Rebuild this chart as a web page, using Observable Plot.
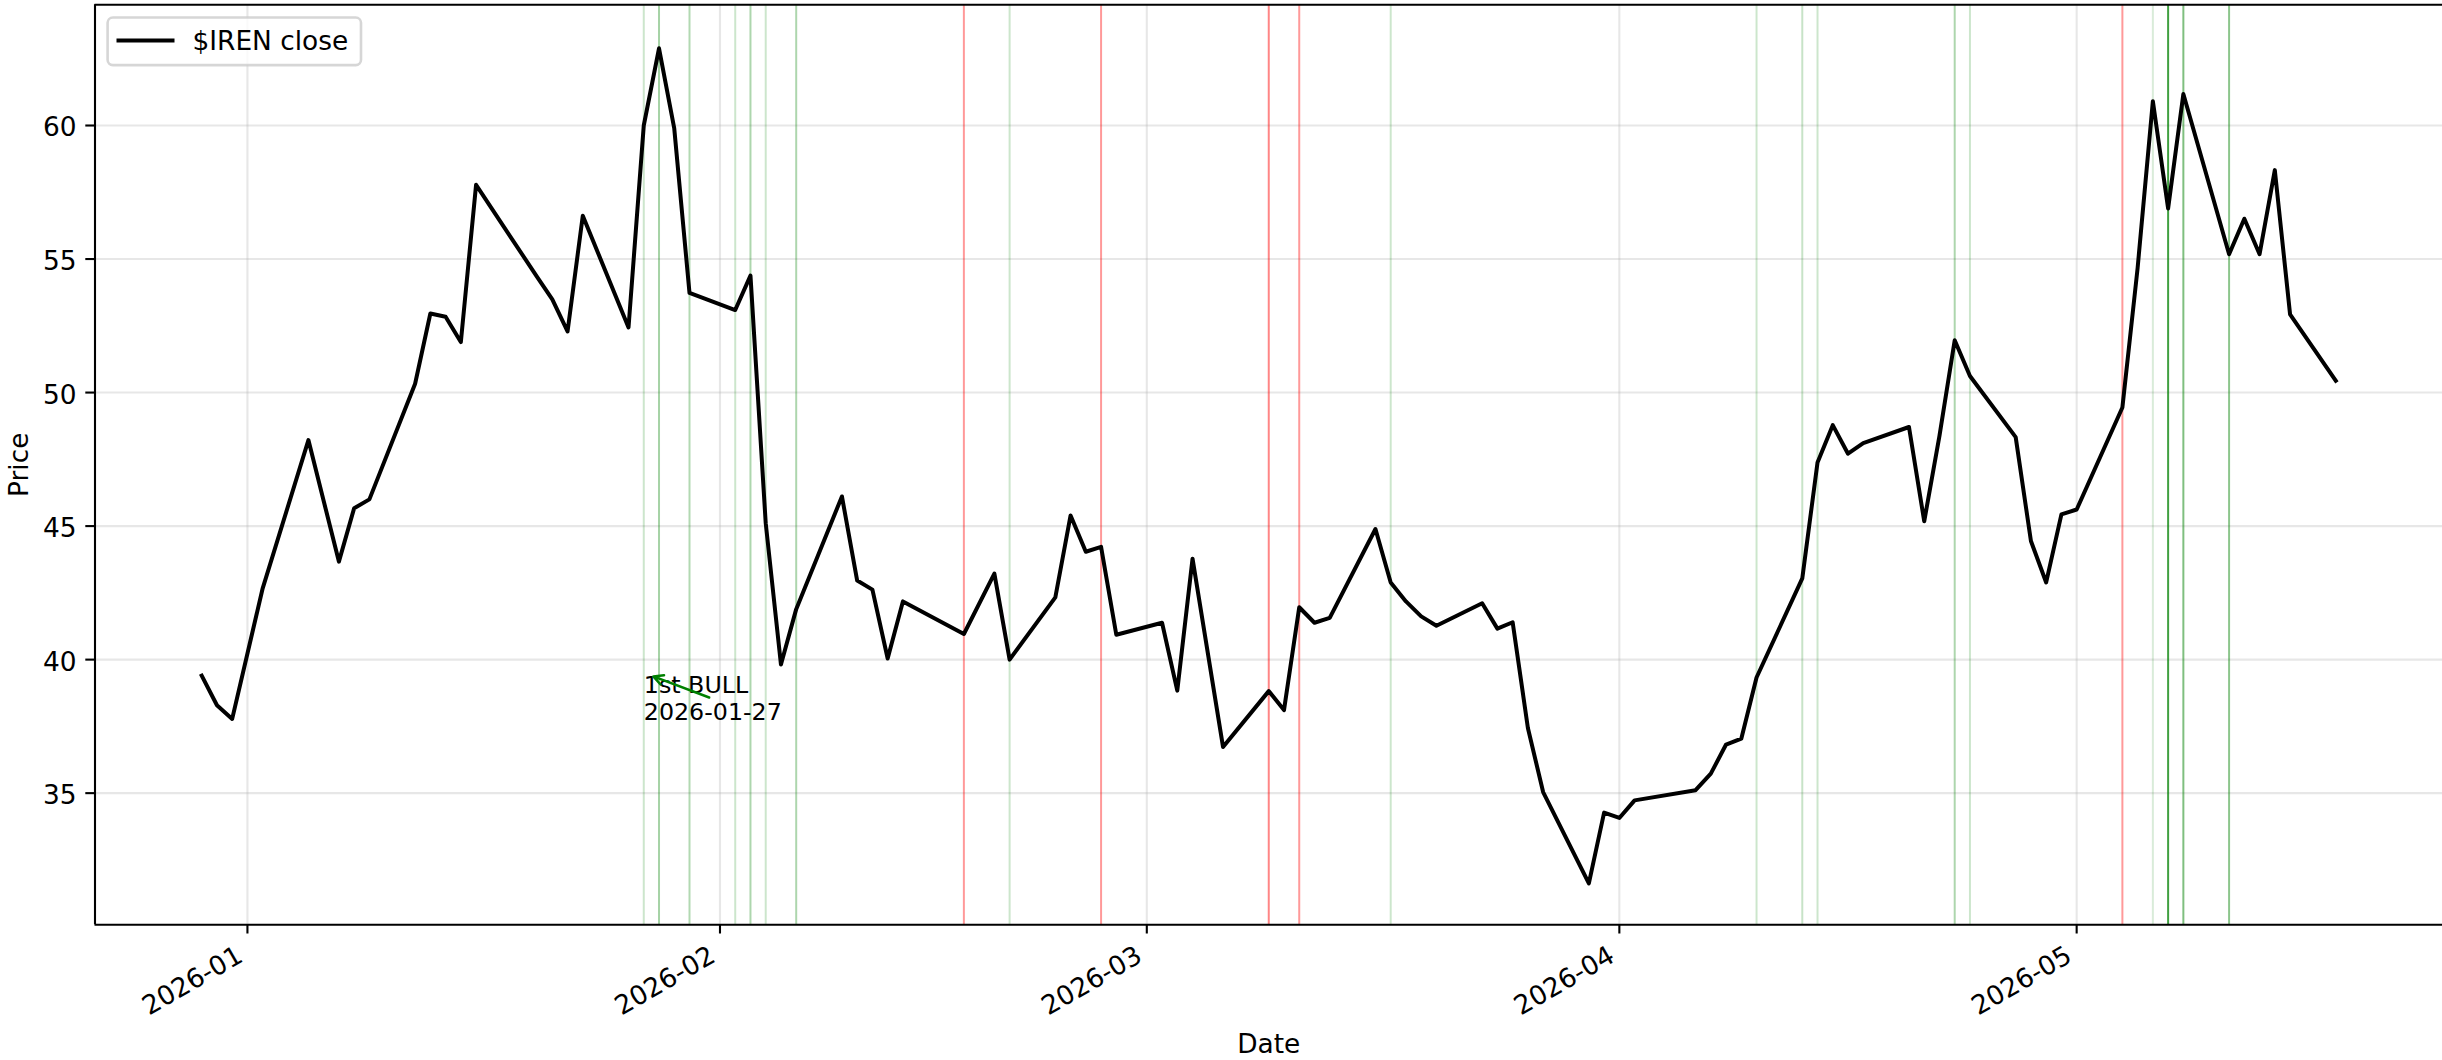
<!DOCTYPE html>
<html>
<head>
<meta charset="utf-8">
<script src="https://cdn.jsdelivr.net/npm/d3@7"></script>
<script src="https://cdn.jsdelivr.net/npm/@observablehq/plot@0.6"></script>
<style>
html,body{margin:0;padding:0;background:#fff;overflow:hidden}
#chart svg{display:block}
</style>
</head>
<body>
<div id="chart"></div>
<script>
// ---- data ----
const dates = [
"2025-12-29","2025-12-30","2025-12-31","2026-01-02","2026-01-05","2026-01-07","2026-01-08","2026-01-09",
"2026-01-12","2026-01-13","2026-01-14","2026-01-15","2026-01-16","2026-01-20","2026-01-21","2026-01-22","2026-01-23",
"2026-01-26","2026-01-27","2026-01-28","2026-01-29","2026-01-30",
"2026-02-02","2026-02-03","2026-02-04","2026-02-05","2026-02-06",
"2026-02-09","2026-02-10","2026-02-11","2026-02-12","2026-02-13",
"2026-02-17","2026-02-19","2026-02-20",
"2026-02-23","2026-02-24","2026-02-25","2026-02-26","2026-02-27",
"2026-03-02","2026-03-03","2026-03-04","2026-03-06",
"2026-03-09","2026-03-10","2026-03-11","2026-03-12","2026-03-13",
"2026-03-16","2026-03-17","2026-03-18","2026-03-19","2026-03-20",
"2026-03-23","2026-03-24","2026-03-25","2026-03-26","2026-03-27",
"2026-03-30","2026-03-31","2026-04-01","2026-04-02",
"2026-04-06","2026-04-07","2026-04-08","2026-04-09","2026-04-10",
"2026-04-13","2026-04-14","2026-04-15","2026-04-16","2026-04-17",
"2026-04-20","2026-04-21","2026-04-22","2026-04-23","2026-04-24",
"2026-04-27","2026-04-28","2026-04-29","2026-04-30","2026-05-01",
"2026-05-04","2026-05-05","2026-05-06","2026-05-07","2026-05-08",
"2026-05-11","2026-05-12","2026-05-13","2026-05-14","2026-05-15",
"2026-05-18"
];
const closes = [
39.40, 38.29, 37.78, 42.67, 48.22, 43.67, 45.67, 46.00,
50.33, 52.96, 52.84, 51.89, 57.78, 54.33, 53.49, 52.29, 56.62,
52.44, 60.00, 62.89, 59.89, 53.73,
53.09, 54.38, 45.11, 39.82, 41.89,
46.11, 42.96, 42.62, 40.04, 42.18,
40.96, 43.22, 40.00,
42.33, 45.40, 44.04, 44.22, 40.93,
41.38, 38.84, 43.78, 36.73,
38.82, 38.11, 41.96, 41.38, 41.56,
44.89, 42.89, 42.18, 41.62, 41.27,
42.11, 41.16, 41.40, 37.44, 35.04,
31.62, 34.27, 34.07, 34.73,
35.11, 35.73, 36.82, 37.04, 39.33,
43.04, 47.38, 48.78, 47.71, 48.11,
48.71, 45.18, 48.38, 51.96, 50.62,
48.33, 44.44, 42.89, 45.44, 45.62,
49.44, 54.67, 60.91, 56.89, 61.18,
55.18, 56.51, 55.18, 58.33, 52.93,
50.44
];
// bullish signal days and their signal score (drawn as line opacity)
const bullDates = ["2026-01-27","2026-01-28","2026-01-30","2026-02-02","2026-02-03","2026-02-04","2026-02-06",
  "2026-02-20","2026-03-17","2026-04-10","2026-04-13","2026-04-14","2026-04-23","2026-04-24",
  "2026-05-06","2026-05-07","2026-05-08","2026-05-11"];
const bullScores = [0.2,0.35,0.3,0.2,0.32,0.2,0.32,0.2,0.2,0.2,0.22,0.2,0.32,0.2,0.15,0.75,0.5,0.45];
// bearish signal days and scores
const bearDates = ["2026-02-17","2026-02-26","2026-03-09","2026-03-11","2026-05-04"];
const bearScores = [0.4,0.4,0.48,0.4,0.4];

const monthTicks = ["2026-01-01","2026-02-01","2026-03-01","2026-04-01","2026-05-01"];
const yTicks = [35,40,45,50,55,60];
const seriesLabel = "$IREN close";
const xLabel = "Date";
const yLabel = "Price";

// annotation (first bullish signal)
const annotLabel = "1st BULL\n2026-01-27";
const annotTextDate = "2026-01-27";
const annotTextY = 37.75;
const annotTail = ["2026-01-31T07:00", 38.58];
const annotTip = ["2026-01-27T15:00", 39.37];

// ---- build ----
const parse = d3.utcParse("%Y-%m-%d");
const parseT = d3.utcParse("%Y-%m-%dT%H:%M");
const series = dates.map((d, i) => ({date: parse(d), close: closes[i]}));
const bull = bullDates.map((d, i) => ({date: parse(d), score: bullScores[i]}));
const bear = bearDates.map((d, i) => ({date: parse(d), score: bearScores[i]}));
const months = monthTicks.map(parse);
const annot = [{
  x1: parseT(annotTail[0]), y1: annotTail[1],
  x2: parseT(annotTip[0]), y2: annotTip[1]
}];
const xDomain = [parse("2025-12-22"), parse("2026-05-25")];
const yDomain = [30.07, 64.52];
const FS = 26.4;
const font = "DejaVu Sans";

const chart = Plot.plot({
  width: 2442,
  height: 1060,
  marginLeft: 94.5,
  marginRight: 0,
  marginTop: 4.3,
  marginBottom: 135.7,
  x: {type: "utc", domain: xDomain, axis: null},
  y: {type: "linear", domain: yDomain, axis: null},
  opacity: {type: "identity"},
  style: {fontFamily: font, fontSize: FS + "px", background: "white", color: "black", overflow: "visible"},
  marks: [
    // grid
    Plot.ruleY(yTicks, {y: d => d, stroke: "#b0b0b0", strokeOpacity: 0.3, strokeWidth: 2.1}),
    Plot.ruleX(months, {x: d => d, stroke: "#b0b0b0", strokeOpacity: 0.3, strokeWidth: 2.1}),
    // signal lines
    Plot.ruleX(bull, {x: "date", stroke: "#008000", strokeOpacity: "score", strokeWidth: 2}),
    Plot.ruleX(bear, {x: "date", stroke: "#ff0000", strokeOpacity: "score", strokeWidth: 2}),
    // price
    Plot.line(series, {x: "date", y: "close", stroke: "black", strokeWidth: 4, strokeLinejoin: "round", strokeLinecap: "square"}),
    // annotation
    Plot.text([annotLabel], {x: () => parse(annotTextDate), y: () => annotTextY, text: d => d,
      textAnchor: "start", lineAnchor: "bottom", lineHeight: 1.12, fontSize: 23.75, fill: "black"}),
    Plot.arrow(annot, {x1: "x1", y1: "y1", x2: "x2", y2: "y2",
      stroke: "green", strokeWidth: 2.5, headLength: 6.5, headAngle: 55}),
    // spines
    Plot.ruleX([xDomain[0]], {x: d => d, stroke: "black", strokeWidth: 2.1}),
    Plot.ruleY([yDomain[0]], {y: d => d, stroke: "black", strokeWidth: 2.1}),
    Plot.ruleY([yDomain[1]], {y: d => d, stroke: "black", strokeWidth: 2.1}),
    // ticks
    Plot.ruleX(months, {x: d => d, y1: yDomain[0], y2: yDomain[0], insetBottom: -9.2, stroke: "black", strokeWidth: 2.1}),
    Plot.ruleY(yTicks, {y: d => d, x1: xDomain[0], x2: xDomain[0], insetLeft: -9.2, stroke: "black", strokeWidth: 2.1}),
    // tick labels
    Plot.text(months, {x: d => d, text: d => d3.utcFormat("%Y-%m")(d), frameAnchor: "bottom",
      dx: -3, dy: 35.8, rotate: -30, textAnchor: "end", lineAnchor: "bottom", fontSize: FS, fill: "black"}),
    Plot.text(yTicks, {y: d => d, text: d => String(d), frameAnchor: "left",
      dx: -18.4, dy: 2.5, textAnchor: "end", lineAnchor: "middle", fontSize: FS, fill: "black"}),
    // axis labels
    Plot.text([yLabel], {text: d => d, frameAnchor: "left", dx: -67.5, rotate: -90,
      textAnchor: "middle", lineAnchor: "bottom", fontSize: FS, fill: "black"}),
    Plot.text([xLabel], {text: d => d, frameAnchor: "bottom", dy: 128.4,
      textAnchor: "middle", lineAnchor: "bottom", fontSize: FS, fill: "black"})
  ]
});

// legend (upper left, inside axes)
const svg = d3.select(chart);
const lg = svg.append("g").attr("class", "legend").attr("text-anchor", "start");
lg.append("rect").attr("x", 107.6).attr("y", 17.5).attr("width", 253.4).attr("height", 47.6)
  .attr("rx", 5.3).attr("ry", 5.3).attr("fill", "white").attr("fill-opacity", 0.8)
  .attr("stroke", "#cccccc").attr("stroke-opacity", 0.8).attr("stroke-width", 2.6);
lg.append("line").attr("x1", 118.5).attr("x2", 172.5).attr("y1", 40.5).attr("y2", 40.5)
  .attr("stroke", "black").attr("stroke-width", 4).attr("stroke-linecap", "square");
lg.append("text").attr("x", 192.5).attr("y", 49.8).attr("text-anchor", "start")
  .attr("font-family", font).attr("font-size", FS)
  .attr("fill", "black").text(seriesLabel);

document.getElementById("chart").appendChild(chart);
</script>
</body>
</html>
